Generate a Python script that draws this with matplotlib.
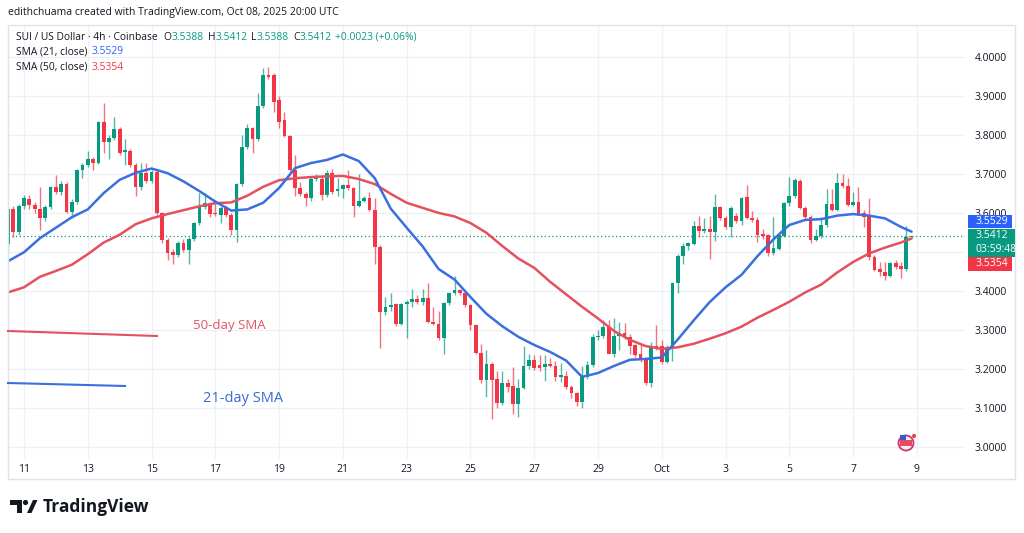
import matplotlib
matplotlib.use('Agg')
import matplotlib.pyplot as plt
from matplotlib.patches import Rectangle, Polygon, Ellipse
from matplotlib.lines import Line2D
import numpy as np
from datetime import datetime, timedelta

plt.rcParams['font.family'] = ['Open Sans', 'DejaVu Sans']

W, H = 1024, 533

# ---------------- data (SUI/USD, 4h, Coinbase) ----------------
start_time = datetime(2025, 9, 10, 12, 0)

opens = [
    3.520, 3.610, 3.552, 3.620, 3.636, 3.621,
    3.612, 3.588, 3.617, 3.667, 3.655, 3.675,
    3.603, 3.630, 3.711, 3.724, 3.740, 3.730,
    3.834, 3.783, 3.793, 3.816, 3.757, 3.760,
    3.724, 3.667, 3.703, 3.683, 3.706, 3.600,
    3.531, 3.500, 3.493, 3.524, 3.505, 3.535,
    3.575, 3.616, 3.626, 3.602, 3.596, 3.613,
    3.596, 3.557, 3.675, 3.770, 3.818, 3.790,
    3.875, 3.955, 3.955, 3.890, 3.840, 3.798,
    3.711, 3.665, 3.650, 3.638, 3.688, 3.688,
    3.647, 3.703, 3.656, 3.662, 3.672, 3.665,
    3.620, 3.632, 3.640, 3.608, 3.513, 3.346,
    3.360, 3.366, 3.317, 3.366, 3.373, 3.380,
    3.372, 3.383, 3.322, 3.317, 3.280, 3.370,
    3.395, 3.402, 3.395, 3.364, 3.313, 3.241,
    3.172, 3.213, 3.174, 3.112, 3.164, 3.157,
    3.110, 3.151, 3.208, 3.223, 3.210, 3.205,
    3.213, 3.208, 3.180, 3.182, 3.154, 3.138,
    3.115, 3.180, 3.210, 3.282, 3.285, 3.307,
    3.238, 3.285, 3.292, 3.282, 3.261, 3.238,
    3.227, 3.164, 3.260, 3.260, 3.218, 3.256,
    3.420, 3.490, 3.516, 3.522, 3.568, 3.555,
    3.560, 3.552, 3.616, 3.588, 3.565, 3.592,
    3.580, 3.642, 3.588, 3.582, 3.548, 3.544,
    3.498, 3.509, 3.542, 3.626, 3.644, 3.683,
    3.614, 3.591, 3.531, 3.541, 3.569, 3.624,
    3.609, 3.677, 3.670, 3.621, 3.628, 3.602,
    3.594, 3.488, 3.457, 3.449, 3.440, 3.472,
    3.464, 3.456, 3.5388,
]
highs = [
    3.615, 3.618, 3.625, 3.648, 3.646, 3.630,
    3.667, 3.622, 3.670, 3.698, 3.682, 3.680,
    3.636, 3.715, 3.730, 3.760, 3.745, 3.836,
    3.883, 3.800, 3.847, 3.822, 3.790, 3.766,
    3.730, 3.730, 3.730, 3.712, 3.712, 3.604,
    3.536, 3.508, 3.528, 3.535, 3.540, 3.578,
    3.652, 3.652, 3.630, 3.635, 3.618, 3.618,
    3.600, 3.678, 3.800, 3.830, 3.822, 3.908,
    3.973, 3.975, 3.960, 3.900, 3.860, 3.802,
    3.750, 3.680, 3.655, 3.695, 3.700, 3.695,
    3.710, 3.713, 3.690, 3.676, 3.710, 3.668,
    3.700, 3.645, 3.655, 3.640, 3.518, 3.385,
    3.395, 3.370, 3.370, 3.378, 3.405, 3.390,
    3.405, 3.420, 3.360, 3.350, 3.372, 3.398,
    3.440, 3.405, 3.398, 3.368, 3.316, 3.265,
    3.250, 3.218, 3.195, 3.195, 3.175, 3.205,
    3.175, 3.260, 3.240, 3.235, 3.235, 3.235,
    3.228, 3.220, 3.215, 3.195, 3.160, 3.142,
    3.208, 3.220, 3.290, 3.300, 3.325, 3.325,
    3.330, 3.320, 3.318, 3.290, 3.265, 3.265,
    3.230, 3.270, 3.313, 3.275, 3.262, 3.424,
    3.495, 3.525, 3.527, 3.580, 3.593, 3.588,
    3.593, 3.649, 3.620, 3.592, 3.618, 3.600,
    3.642, 3.672, 3.605, 3.590, 3.560, 3.548,
    3.590, 3.548, 3.630, 3.693, 3.690, 3.688,
    3.618, 3.595, 3.560, 3.590, 3.662, 3.662,
    3.703, 3.700, 3.690, 3.655, 3.667, 3.608,
    3.640, 3.492, 3.475, 3.475, 3.475, 3.480,
    3.475, 3.567, 3.5412,
]
lows = [
    3.500, 3.540, 3.545, 3.612, 3.612, 3.600,
    3.557, 3.580, 3.612, 3.650, 3.648, 3.600,
    3.588, 3.625, 3.690, 3.718, 3.710, 3.726,
    3.755, 3.740, 3.788, 3.750, 3.725, 3.720,
    3.644, 3.660, 3.678, 3.678, 3.595, 3.525,
    3.480, 3.470, 3.488, 3.500, 3.470, 3.530,
    3.570, 3.610, 3.590, 3.592, 3.575, 3.590,
    3.545, 3.526, 3.670, 3.765, 3.755, 3.785,
    3.870, 3.945, 3.860, 3.820, 3.795, 3.708,
    3.644, 3.644, 3.620, 3.632, 3.684, 3.635,
    3.642, 3.650, 3.645, 3.640, 3.660, 3.590,
    3.615, 3.628, 3.605, 3.470, 3.254, 3.338,
    3.350, 3.310, 3.312, 3.280, 3.360, 3.368,
    3.365, 3.318, 3.312, 3.275, 3.240, 3.365,
    3.390, 3.390, 3.360, 3.300, 3.238, 3.165,
    3.128, 3.072, 3.100, 3.108, 3.140, 3.085,
    3.077, 3.148, 3.200, 3.198, 3.195, 3.170,
    3.205, 3.170, 3.168, 3.150, 3.125, 3.105,
    3.100, 3.175, 3.205, 3.275, 3.280, 3.260,
    3.230, 3.250, 3.278, 3.240, 3.232, 3.218,
    3.158, 3.154, 3.250, 3.212, 3.215, 3.222,
    3.395, 3.470, 3.505, 3.518, 3.540, 3.550,
    3.483, 3.530, 3.584, 3.560, 3.540, 3.575,
    3.570, 3.585, 3.578, 3.526, 3.535, 3.490,
    3.494, 3.505, 3.538, 3.620, 3.640, 3.610,
    3.586, 3.525, 3.528, 3.536, 3.565, 3.605,
    3.605, 3.665, 3.618, 3.618, 3.595, 3.565,
    3.480, 3.452, 3.440, 3.430, 3.436, 3.458,
    3.434, 3.452, 3.5388,
]
closes = [
    3.610, 3.552, 3.620, 3.640, 3.621, 3.610,
    3.588, 3.617, 3.667, 3.655, 3.675, 3.603,
    3.630, 3.711, 3.724, 3.740, 3.730, 3.834,
    3.783, 3.793, 3.816, 3.755, 3.762, 3.724,
    3.667, 3.703, 3.683, 3.706, 3.600, 3.531,
    3.498, 3.493, 3.524, 3.505, 3.535, 3.575,
    3.616, 3.626, 3.598, 3.598, 3.613, 3.596,
    3.557, 3.675, 3.770, 3.818, 3.790, 3.875,
    3.955, 3.950, 3.886, 3.834, 3.798, 3.711,
    3.665, 3.650, 3.638, 3.688, 3.692, 3.647,
    3.703, 3.655, 3.662, 3.672, 3.665, 3.620,
    3.632, 3.640, 3.608, 3.513, 3.346, 3.360,
    3.364, 3.317, 3.366, 3.373, 3.380, 3.372,
    3.383, 3.320, 3.317, 3.280, 3.370, 3.395,
    3.402, 3.395, 3.364, 3.313, 3.241, 3.172,
    3.213, 3.172, 3.112, 3.164, 3.153, 3.110,
    3.151, 3.208, 3.223, 3.203, 3.203, 3.213,
    3.208, 3.180, 3.185, 3.154, 3.138, 3.115,
    3.180, 3.210, 3.282, 3.285, 3.307, 3.238,
    3.284, 3.292, 3.282, 3.259, 3.236, 3.223,
    3.164, 3.260, 3.256, 3.218, 3.256, 3.420,
    3.490, 3.516, 3.524, 3.568, 3.555, 3.560,
    3.552, 3.616, 3.588, 3.565, 3.613, 3.580,
    3.639, 3.588, 3.582, 3.544, 3.542, 3.498,
    3.510, 3.545, 3.626, 3.644, 3.685, 3.614,
    3.591, 3.531, 3.541, 3.569, 3.624, 3.609,
    3.677, 3.670, 3.621, 3.628, 3.598, 3.591,
    3.488, 3.455, 3.449, 3.440, 3.472, 3.462,
    3.456, 3.539, 3.5412,
]

sma21 = [3.477, 3.500, 3.536, 3.563, 3.590, 3.610, 3.652, 3.686, 3.704, 3.715,
         3.703, 3.682, 3.657, 3.630, 3.607, 3.610, 3.627, 3.665, 3.716, 3.729,
         3.737, 3.751, 3.734, 3.690, 3.612, 3.563, 3.515, 3.457, 3.430, 3.385,
         3.342, 3.310, 3.283, 3.262, 3.244, 3.222, 3.180, 3.190, 3.208, 3.224,
         3.226, 3.230, 3.276, 3.325, 3.372, 3.410, 3.442, 3.490, 3.533, 3.570,
         3.583, 3.585, 3.594, 3.598, 3.594, 3.587, 3.565, 3.5529]
sma50 = [3.397, 3.410, 3.437, 3.452, 3.468, 3.495, 3.525, 3.545, 3.572, 3.587,
         3.598, 3.608, 3.618, 3.626, 3.628, 3.645, 3.668, 3.685, 3.690, 3.693,
         3.695, 3.696, 3.688, 3.675, 3.650, 3.627, 3.614, 3.601, 3.592, 3.575,
         3.550, 3.516, 3.484, 3.460, 3.424, 3.392, 3.360, 3.330, 3.298, 3.275,
         3.259, 3.252, 3.256, 3.265, 3.278, 3.292, 3.309, 3.332, 3.352, 3.373,
         3.397, 3.417, 3.448, 3.475, 3.497, 3.512, 3.525, 3.5354]

date_labels = ["11", "13", "15", "17", "19", "21", "23", "25", "27", "29",
               "Oct", "3", "5", "7", "9"]
price_ticks = [3.0, 3.1, 3.2, 3.3, 3.4, 3.5, 3.6, 3.7, 3.8, 3.9, 4.0]

# ---------------- colours ----------------
UP = '#089981'
DOWN = '#f23645'
BLUE = '#2962ff'
SMA_BLUE = '#3a6fe0'
SMA_RED = '#e5505e'
TXT = '#131722'
GRID = '#eef0f5'

# ---------------- derived positions ----------------
n = len(closes)
ref = datetime(2025, 9, 11)
xs = np.array([(start_time + timedelta(hours=4 * i) - ref).total_seconds() / 86400
               for i in range(n)])
sma_idx = list(range(0, n, 3)) + [n - 1]
sma_x = xs[sma_idx]
tick_x = [(ref + timedelta(days=2 * k) - ref).days for k in range(len(date_labels))]

fig = plt.figure(figsize=(W / 100, H / 100), dpi=100)
fig.patch.set_facecolor('white')


def fx(px):
    return px / W


def fy(py):
    return 1 - py / H


ax = fig.add_axes([fx(8), fy(458), (965 - 8) / W, (458 - 25) / H])
ax.set_facecolor('white')
ax.set_xlim(-0.5017, 29.508)
ax.set_ylim(2.9718, 4.0834)
for s in ax.spines.values():
    s.set_visible(False)

ax.set_xticks(tick_x)
ax.set_xticklabels(date_labels)
ax.yaxis.tick_right()
ax.set_yticks(price_ticks)
# 3.5000 sits fully behind the last-price box in the reference, so it shows no text
ax.set_yticklabels(["" if abs(v - 3.5) < 1e-9 else f"{v:.4f}" for v in price_ticks])
ax.tick_params(axis='x', length=0, pad=4, labelsize=7.5, labelcolor=TXT)
ax.tick_params(axis='y', length=0, pad=7, labelsize=7.5, labelcolor=TXT)
ax.grid(True, color=GRID, lw=1, zorder=0)
ax.set_axisbelow(True)

# candles
o = np.array(opens); h = np.array(highs); l = np.array(lows); c = np.array(closes)
cols = [UP if cc >= oo else DOWN for oo, cc in zip(o, c)]
ax.vlines(xs, l, h, colors=cols, lw=1.0, alpha=0.7, zorder=2)
body_b = np.minimum(o, c)
body_h = np.maximum(np.abs(c - o), 0.0025)
ax.bar(xs, body_h, bottom=body_b, width=0.118, color=cols, linewidth=0, zorder=3)

# SMA lines
ax.plot(sma_x, sma50, color=SMA_RED, lw=1.8, zorder=4, solid_capstyle='round')
ax.plot(sma_x, sma21, color=SMA_BLUE, lw=1.8, zorder=5, solid_capstyle='round')

# last price dotted line
ax.axhline(closes[-1], color=UP, lw=0.9, ls=(0, (1, 2)), zorder=1)

# annotation keys drawn on the chart
fig.add_artist(Line2D([fx(8), fx(157)], [fy(331), fy(336)], color=SMA_RED, lw=1.5))
fig.add_artist(Line2D([fx(8), fx(125)], [fy(383), fy(386)], color=SMA_BLUE, lw=1.5))
fig.text(fx(193), fy(325), "50-day SMA", color='#e05563', fontsize=9.5, va='center', ha='left')
fig.text(fx(203), fy(398), "21-day SMA", color='#3a6bd1', fontsize=10.5, va='center', ha='left')

# frame
fig.add_artist(Rectangle((fx(8), fy(479)), (1015 - 8) / W, (479 - 25) / H,
                         transform=fig.transFigure, fill=False, ec='#e0e3eb', lw=1))

# header
fig.text(fx(8), fy(13), "edithchuama created with TradingView.com, Oct 08, 2025 20:00 UTC",
         color=TXT, fontsize=7.5, va='center', ha='left')

renderer = fig.canvas.get_renderer()


def seq(px, py, parts, size):
    for s, col, gap in parts:
        t = fig.text(fx(px), fy(py), s, color=col, fontsize=size, va='center', ha='left')
        bb = t.get_window_extent(renderer=renderer)
        px += bb.width + gap


seq(16, 37, [("SUI / US Dollar · 4h · Coinbase", TXT, 6),
             ("O", TXT, 0), ("3.5388", UP, 4),
             ("H", TXT, 0), ("3.5412", UP, 4),
             ("L", TXT, 0), ("3.5388", UP, 4),
             ("C", TXT, 0), ("3.5412", UP, 4),
             ("+0.0023 (+0.06%)", UP, 0)], 7.4)
seq(16, 52, [("SMA (21, close)", TXT, 4), ("3.5529", BLUE, 0)], 7.4)
seq(16, 67, [("SMA (50, close)", TXT, 4), ("3.5354", DOWN, 0)], 7.4)


# price boxes on the right scale
def box(x0, y0, x1, y1, col):
    fig.add_artist(Rectangle((fx(x0), fy(y1)), (x1 - x0) / W, (y1 - y0) / H,
                             transform=fig.transFigure, fc=col, ec='none', zorder=5))


box(968, 215, 1012, 228, BLUE)
fig.text(fx(975), fy(221.5), f"{sma21[-1]:.4f}", color='white', fontsize=7.5,
         va='center', ha='left', zorder=6)
box(968, 229, 1015, 257, UP)
fig.text(fx(975), fy(236), f"{closes[-1]:.4f}", color='white', fontsize=7.5,
         va='center', ha='left', zorder=6)
fig.text(fx(975), fy(250), "03:59:48", color='white', fontsize=7.5,
         va='center', ha='left', zorder=6)
box(968, 257, 1012, 271, DOWN)
fig.text(fx(975), fy(264), f"{sma50[-1]:.4f}", color='white', fontsize=7.5,
         va='center', ha='left', zorder=6)


def circ(cx, cy, r, **kw):
    fig.add_artist(Ellipse((fx(cx), fy(cy)), 2 * r / W, 2 * r / H,
                           transform=fig.transFigure, **kw))


# small events icon near the time axis
circ(906, 443, 7.5, fc='#eef1fb', ec='#d6336c', lw=1.3, zorder=6)
fig.add_artist(Rectangle((fx(900), fy(446)), 12 / W, 6 / H, transform=fig.transFigure,
                         fc='#e84a5f', ec='none', zorder=7))
fig.add_artist(Rectangle((fx(900), fy(440)), 6 / W, 5 / H, transform=fig.transFigure,
                         fc='#3a5bc7', ec='none', zorder=7))
circ(914, 436, 2.0, fc='#f23645', ec='none', zorder=8)


# TradingView logo
def poly(pts, col=TXT):
    fig.add_artist(Polygon([(fx(a), fy(b)) for a, b in pts], closed=True,
                           transform=fig.transFigure, fc=col, ec='none'))


poly([(10, 500), (22, 500), (22, 513), (17, 513), (17, 505), (10, 505)])
circ(25.5, 502.5, 2.6, fc=TXT, ec='none')
poly([(27, 513), (31.5, 513), (37.5, 500), (33, 500)])
fig.text(fx(43), fy(506.5), "TradingView", color=TXT, fontsize=12.5,
         fontweight='bold', va='center', ha='left')

fig.savefig('out.png', dpi=100, facecolor='white')
